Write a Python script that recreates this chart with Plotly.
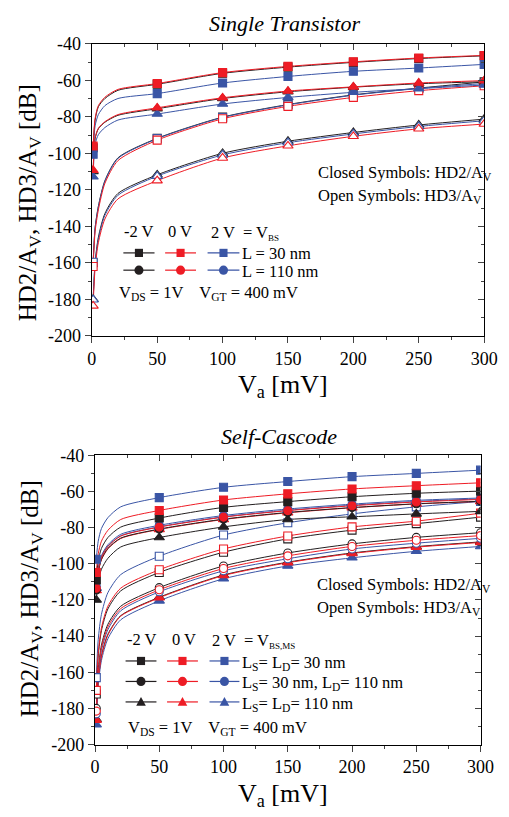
import plotly.graph_objects as go

W, H = 509, 817
FONT = "Liberation Serif"

# ---------------- data ----------------
VA = [1, 2.5, 5, 10, 20, 50, 100, 150, 200, 250, 300]          # mV (curve points)
MARK_VA = [1, 50, 100, 150, 200, 250, 300]                       # mV (symbols)
VBS_LABELS = ["-2 V", "0 V", "2 V"]
COL_M2, COL_0, COL_P2 = "#231f20", "#ee1c25", "#3a55a5"

# Single transistor, HD2/Av (closed), L = 30 nm
st_hd2_l30_m2 = [-97, -82, -74.5, -70, -65.5, -62.2, -56.2, -52.8, -50.2, -48.1, -46.6]
st_hd2_l30_0 = [-96, -81, -73.9, -69.3, -65, -61.8, -55.8, -52.4, -49.9, -47.8, -46.4]
st_hd2_l30_p2 = [-100.5, -85, -78.8, -73.9, -70, -67.3, -61.5, -57.9, -55.1, -53.3, -51.3]
# Single transistor, HD2/Av (closed), L = 110 nm
st_hd2_l110_m2 = [-110, -92, -86.6, -83, -79.2, -75.6, -70.0, -66.3, -63.8, -61.9, -60.8]
st_hd2_l110_0 = [-109.3, -91.6, -86.3, -82.7, -78.8, -75.1, -69.6, -65.9, -63.6, -61.5, -60.2]
st_hd2_l110_p2 = [-112.9, -95.1, -89.8, -85.9, -81.8, -78.5, -73.0, -69.4, -66.6, -64.6, -62.6]
# Single transistor, HD3/Av (open), L = 30 nm
st_hd3_l30_m2 = [-160, -141, -129, -115, -102.5, -91.8, -80.2, -73.3, -68.0, -64.3, -60.9]
st_hd3_l30_0 = [-162, -143, -131, -116.5, -104, -92.8, -81.1, -74.3, -69.4, -65.7, -63.0]
st_hd3_l30_p2 = [-159.7, -141, -129.5, -115.3, -102.8, -92.0, -80.4, -73.5, -68.2, -64.5, -61.8]
# Single transistor, HD3/Av (open), L = 110 nm
st_hd3_l110_m2 = [-180, -160, -146, -133, -122, -111.8, -100.0, -93.4, -88.6, -84.5, -81.3]
st_hd3_l110_0 = [-183.6, -163, -149, -136, -125, -115.0, -102.6, -95.9, -90.7, -86.6, -84.0]
st_hd3_l110_p2 = [-180.2, -160.5, -147, -134, -123, -112.5, -100.9, -94.2, -89.4, -85.3, -82.2]

# Self-cascode, HD2/Av (closed)
sc_hd2_sq_m2 = [-109, -98.5, -91.5, -85.5, -79.7, -74.7, -68.8, -65.6, -62.9, -61.0, -59.8]
sc_hd2_sq_0 = [-104.8, -94.5, -87.5, -81.5, -75.5, -70.5, -64.7, -61.3, -58.6, -56.8, -55.2]
sc_hd2_sq_p2 = [-97.5, -87.5, -80.5, -74.5, -68.5, -63.4, -57.7, -54.5, -51.8, -50.0, -48.2]
sc_hd2_ci_m2 = [-114.5, -104.5, -97.5, -91.5, -85.8, -80.8, -75.3, -71.6, -68.9, -66.8, -65.4]
sc_hd2_ci_0 = [-113.5, -103.5, -96.5, -90.5, -84.7, -79.7, -74.2, -70.6, -67.9, -65.8, -64.4]
sc_hd2_ci_p2 = [-112.5, -102.5, -95.5, -89.5, -83.7, -78.7, -73.3, -69.7, -67.0, -64.9, -63.6]
sc_hd2_tr_m2 = [-120, -110, -103, -97, -90.7, -85.5, -79.6, -75.5, -74.0, -72.4, -71.0]
sc_hd2_tr_0 = [-114.8, -104.8, -97.8, -91.8, -86.0, -81.0, -75.5, -71.8, -69.0, -66.9, -65.5]
sc_hd2_tr_p2 = [-113.5, -103.3, -96.3, -90.3, -84.5, -79.5, -74.0, -70.4, -67.6, -65.5, -64.1]
# Self-cascode, HD3/Av (open)
sc_hd3_sq_m2 = [-172, -151, -137, -125, -115, -104.8, -93.6, -86.2, -81.4, -77.8, -74.2]
sc_hd3_sq_0 = [-170, -149.5, -135.5, -123.5, -113.5, -103.3, -91.8, -84.6, -79.6, -76.4, -72.0]
sc_hd3_sq_p2 = [-163, -142, -128, -116, -106, -95.8, -84.1, -77.3, -72.4, -68.5, -65.5]
sc_hd3_ci_m2 = [-180, -159, -145, -133.5, -123.5, -113.2, -101.2, -94.0, -89.0, -85.4, -82.8]
sc_hd3_ci_0 = [-181.5, -160.5, -146.5, -135, -124.8, -114.4, -102.6, -95.6, -90.4, -87.0, -84.4]
sc_hd3_ci_p2 = [-183, -162, -148, -136.5, -126, -115.5, -103.9, -97.2, -91.8, -88.6, -85.9]
sc_hd3_tr_m2 = [-186, -165, -151, -139, -128.7, -118.5, -106.2, -99.1, -94.0, -90.5, -87.9]
sc_hd3_tr_0 = [-186.5, -165.5, -151.5, -139.5, -129, -118.8, -106.5, -99.4, -94.3, -90.8, -88.2]
sc_hd3_tr_p2 = [-189, -167.5, -153.5, -141.5, -131, -120.5, -108.3, -101.2, -96.7, -93.1, -90.4]

X_TICKS = [0, 50, 100, 150, 200, 250, 300]
Y_TICKS = [-200, -180, -160, -140, -120, -100, -80, -60, -40]
Y_TICKTEXT = ["-200", "-180", "-160", "-140", "-120", "-100", "-80", "-60", "-40"]

# ---------------- helpers ----------------
def fx(p):
    return p / W


def fy(p):
    return 1 - p / H


fig = go.Figure()
marker_traces = []


def add_curve(xa, ya, vals, color, symbol, filled):
    fig.add_trace(go.Scatter(x=VA, y=vals, mode="lines", xaxis=xa, yaxis=ya,
                             line=dict(color=color, width=1, shape="spline", smoothing=0.7),
                             showlegend=False, hoverinfo="skip"))
    mx = [v for v in VA if v in MARK_VA]
    my = [vals[i] for i, v in enumerate(VA) if v in MARK_VA]
    marker_traces.append(go.Scatter(
        x=mx, y=my, mode="markers", xaxis=xa, yaxis=ya, showlegend=False,
        marker=dict(symbol=symbol, size=8 if symbol != "triangle-up" else 9,
                    color=color if filled else "white",
                    line=dict(color=color, width=1.1))))


cols = [COL_M2, COL_P2, COL_0]  # drawing order black, blue, red
# top panel
for c, a in zip(cols, [st_hd3_l110_m2, st_hd3_l110_p2, st_hd3_l110_0]):
    add_curve("x", "y", a, c, "triangle-up", False)
for c, a in zip(cols, [st_hd3_l30_m2, st_hd3_l30_p2, st_hd3_l30_0]):
    add_curve("x", "y", a, c, "square", False)
for c, a in zip(cols, [st_hd2_l110_m2, st_hd2_l110_p2, st_hd2_l110_0]):
    add_curve("x", "y", a, c, "triangle-up", True)
for c, a in zip(cols, [st_hd2_l30_m2, st_hd2_l30_p2, st_hd2_l30_0]):
    add_curve("x", "y", a, c, "square", True)
# bottom panel
for c, a in zip(cols, [sc_hd3_tr_m2, sc_hd3_tr_p2, sc_hd3_tr_0]):
    add_curve("x2", "y2", a, c, "triangle-up", True)
for c, a in zip(cols, [sc_hd3_ci_m2, sc_hd3_ci_p2, sc_hd3_ci_0]):
    add_curve("x2", "y2", a, c, "circle", False)
for c, a in zip(cols, [sc_hd3_sq_m2, sc_hd3_sq_p2, sc_hd3_sq_0]):
    add_curve("x2", "y2", a, c, "square", False)
for c, a in zip(cols, [sc_hd2_tr_m2, sc_hd2_tr_p2, sc_hd2_tr_0]):
    add_curve("x2", "y2", a, c, "triangle-up", True)
for c, a in zip(cols, [sc_hd2_ci_m2, sc_hd2_ci_p2, sc_hd2_ci_0]):
    add_curve("x2", "y2", a, c, "circle", True)
for c, a in zip(cols, [sc_hd2_sq_m2, sc_hd2_sq_p2, sc_hd2_sq_0]):
    add_curve("x2", "y2", a, c, "square", True)

for t in marker_traces:
    fig.add_trace(t)

# ---------------- axes ----------------
tickfont = dict(family=FONT, size=18, color="black")


def xax(domain, anchor):
    return dict(domain=domain, anchor=anchor, range=[0, 300], tickvals=X_TICKS,
                ticks="outside", ticklen=6, tickwidth=1, showline=True, linewidth=1.2,
                linecolor="black", mirror=True, showgrid=False, zeroline=False,
                tickfont=tickfont, minor=dict(dtick=25, tick0=0, ticks="outside", ticklen=3))


def yax(domain, anchor):
    return dict(domain=domain, anchor=anchor, range=[-200, -40], tickvals=Y_TICKS,
                ticktext=Y_TICKTEXT,
                ticks="outside", ticklen=6, tickwidth=1, showline=True, linewidth=1.2,
                linecolor="black", mirror=True, showgrid=False, zeroline=False,
                tickfont=tickfont, minor=dict(dtick=10, tick0=0, ticks="outside", ticklen=3))


def xtop(over, anchor):
    return dict(overlaying=over, anchor=anchor, side="top", range=[0, 300], tickvals=X_TICKS,
                ticks="inside", ticklen=6, showticklabels=False, showgrid=False,
                zeroline=False, showline=False,
                minor=dict(dtick=25, tick0=0, ticks="inside", ticklen=3))


def yright(over, anchor):
    return dict(overlaying=over, anchor=anchor, side="right", range=[-200, -40], tickvals=Y_TICKS,
                ticks="inside", ticklen=6, showticklabels=False, showgrid=False,
                zeroline=False, showline=False,
                minor=dict(dtick=10, tick0=0, ticks="inside", ticklen=3))


xd1 = [fx(90), fx(496.7)]
yd1 = [fy(334), fy(34.6)]
xd2 = [fx(93.3), fx(493)]
yd2 = [fy(753), fy(456.5)]

fig.update_layout(
    width=W, height=H, margin=dict(l=0, r=0, t=0, b=0),
    paper_bgcolor="white", plot_bgcolor="rgba(0,0,0,0)", showlegend=False,
    font=dict(family=FONT, color="black"),
    xaxis=xax(xd1, "y"), yaxis=yax(yd1, "x"),
    xaxis2=xax(xd2, "y2"), yaxis2=yax(yd2, "x2"),
    xaxis3=xtop("x", "y"), yaxis3=yright("y", "x"),
    xaxis4=xtop("x2", "y2"), yaxis4=yright("y2", "x2"),
)
# dummy traces so overlay axes render
fig.add_trace(go.Scatter(x=[None], y=[None], xaxis="x3", yaxis="y3", showlegend=False))
fig.add_trace(go.Scatter(x=[None], y=[None], xaxis="x4", yaxis="y4", showlegend=False))

# ---------------- text ----------------
ann = []


def text(x, y, s, size=17, xanchor="left", angle=0, yanchor="middle"):
    ann.append(dict(x=fx(x), y=fy(y), xref="paper", yref="paper", text=s, showarrow=False,
                    xanchor=xanchor, yanchor=yanchor, textangle=angle,
                    font=dict(family=FONT, size=size, color="black")))


text(290, 14, "<i>Single Transistor</i>", size=22, xanchor="center")
text(284, 437, "<i>Self-Cascode</i>", size=22, xanchor="center")
text(25, 198, "HD2/A<sub>V</sub>, HD3/A<sub>V</sub> [dB]", size=25, xanchor="center", angle=-90)
text(27, 604, "HD2/A<sub>V</sub>, HD3/A<sub>V</sub> [dB]", size=25, xanchor="center", angle=-90)
text(288, 385, "V<sub>a</sub> [mV]", size=26, xanchor="center")
text(288, 805, "V<sub>a</sub> [mV]", size=26, xanchor="center")

text(322, 167, "Closed Symbols: HD2/A<sub>V</sub>", size=16.5)
text(322, 191, "Open Symbols: HD3/A<sub>V</sub>", size=16.5)
text(321, 589, "Closed Symbols: HD2/A<sub>V</sub>", size=16.5)
text(321, 613, "Open Symbols: HD3/A<sub>V</sub>", size=16.5)

# legend block (top)
text(121, 227, VBS_LABELS[0], size=16.5)
text(167, 227, VBS_LABELS[1], size=16.5)
text(211, 229, VBS_LABELS[2] + "  = V<sub><span style='font-size:9px'>BS</span></sub>", size=16.5)
text(244, 250, "L = 30 nm", size=16.5)
text(244, 268, "L = 110 nm", size=16.5)
text(116, 290, "V<sub>DS</sub> = 1V    V<sub>GT</sub> = 400 mV", size=16.5)

# legend block (bottom)
text(124, 645, VBS_LABELS[0], size=16.5)
text(171, 645, VBS_LABELS[1], size=16.5)
text(212, 647, VBS_LABELS[2] + "  = V<sub><span style='font-size:9px'>BS,MS</span></sub>", size=16.5)
text(244, 669, "L<sub>S</sub>= L<sub>D</sub>= 30 nm", size=16.5)
text(244, 690, "L<sub>S</sub>= 30 nm, L<sub>D</sub>= 110 nm", size=16.5)
text(244, 711, "L<sub>S</sub>= L<sub>D</sub>= 110 nm", size=16.5)
text(125, 736, "V<sub>DS</sub> = 1V    V<sub>GT</sub> = 400 mV", size=16.5)

fig.update_layout(annotations=ann)

# legend glyphs
shapes = []


def seg(x0, x1, y, color):
    shapes.append(dict(type="line", xref="paper", yref="paper", x0=fx(x0), x1=fx(x1),
                       y0=fy(y), y1=fy(y), line=dict(color=color, width=1.2)))


def glyph(kind, cx, cy, color):
    r = 4.2
    if kind == "square":
        shapes.append(dict(type="rect", xref="paper", yref="paper", x0=fx(cx - r), x1=fx(cx + r),
                           y0=fy(cy + r), y1=fy(cy - r), fillcolor=color, line=dict(width=0)))
    elif kind == "circle":
        shapes.append(dict(type="circle", xref="paper", yref="paper", x0=fx(cx - r - 0.5),
                           x1=fx(cx + r + 0.5), y0=fy(cy + r + 0.5), y1=fy(cy - r - 0.5),
                           fillcolor=color, line=dict(width=0)))
    else:
        p = "M %f,%f L %f,%f L %f,%f Z" % (fx(cx - 5), fy(cy + 4), fx(cx + 5), fy(cy + 4),
                                           fx(cx), fy(cy - 5))
        shapes.append(dict(type="path", xref="paper", yref="paper", path=p,
                           fillcolor=color, line=dict(width=0)))


for (x0, x1), c in zip([(122.7, 155), (166, 198), (210, 243)], [COL_M2, COL_0, COL_P2]):
    for y, k in [(249, "square"), (266.7, "circle")]:
        seg(x0, x1, y, c)
        glyph(k, (x0 + x1) / 2, y, c)

for (x0, x1), c in zip([(125, 157), (168, 200), (212, 243)], [COL_M2, COL_0, COL_P2]):
    for y, k in [(667.3, "square"), (688.3, "circle"), (709.3, "triangle")]:
        seg(x0, x1, y, c)
        glyph(k, (x0 + x1) / 2, y, c)

fig.update_layout(shapes=shapes)

fig.write_html("out.html")
